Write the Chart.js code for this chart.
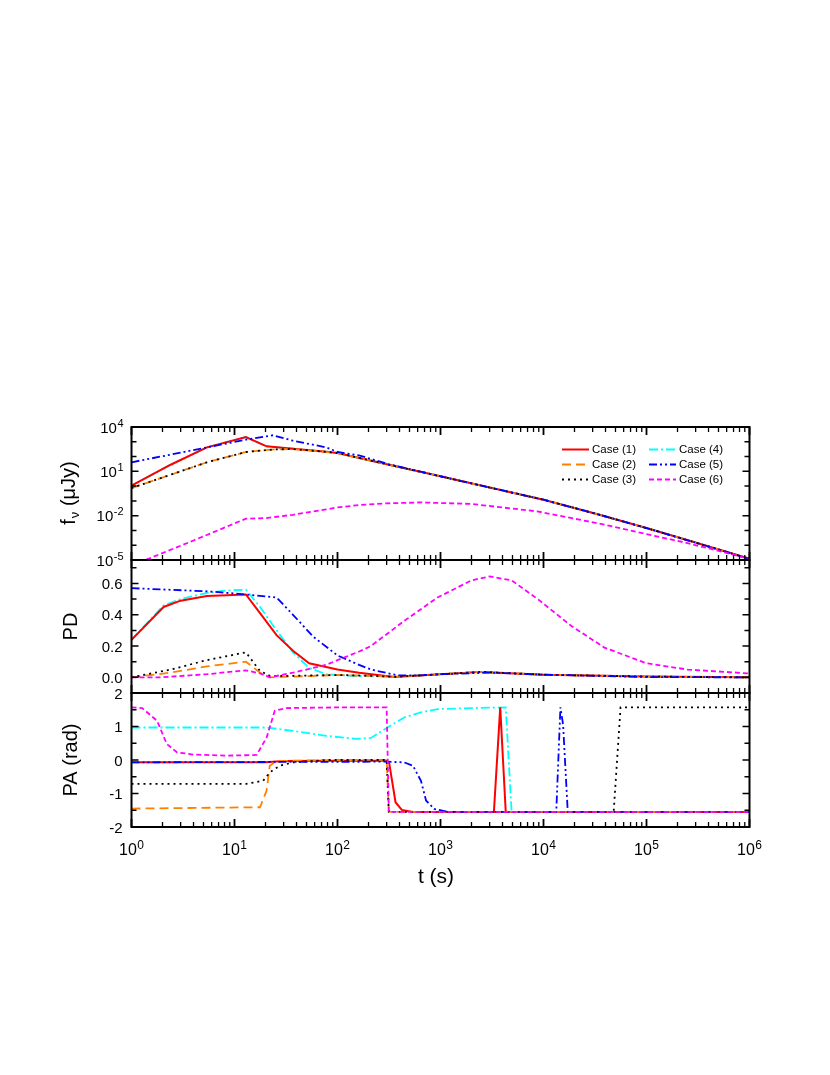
<!DOCTYPE html>
<html>
<head>
<meta charset="utf-8">
<script src="https://cdn.jsdelivr.net/npm/chart.js@4.4.0/dist/chart.umd.min.js"></script>
<style>
  body { margin: 0; background: #fff; }
  .wrap { position: relative; width: 830px; height: 1075px; }
  .wrap canvas { position: absolute; left: 0; top: 0; }
</style>
</head>
<body>
<div class="wrap">
  <canvas id="chart-flux" width="830" height="1075"></canvas>
  <canvas id="chart-pd" width="830" height="1075"></canvas>
  <canvas id="chart-pa" width="830" height="1075"></canvas>
</div>
<script>
// ---- data: [t (s), value] ----
const caseNames = ['Case (1)', 'Case (2)', 'Case (3)', 'Case (4)', 'Case (5)', 'Case (6)'];

// f_nu (uJy)
const fluxCase1 = [[1, 1.07], [2.4, 28], [5.4, 420], [12.9, 2100], [20.5, 490], [37, 340], [78, 214], [100, 174], [316, 28], [1000, 4.6], [3160, 0.74], [1e4, 0.12], [3.16e4, 0.014], [1e5, 1.45e-3], [3.16e5, 1.35e-4], [1e6, 1.2e-5]];
const fluxCase2 = [[1, 0.74], [2.4, 5.9], [5.4, 41], [12.9, 204], [25, 310], [37, 316], [53, 263], [100, 174], [316, 28], [1000, 4.6], [3160, 0.74], [1e4, 0.12], [3.16e4, 0.014], [1e5, 1.45e-3], [3.16e5, 1.35e-4], [1e6, 1.2e-5]];
const fluxCase3 = [[1, 0.74], [2.4, 5.9], [5.4, 41], [12.9, 204], [25, 310], [37, 316], [53, 263], [100, 174], [316, 28], [1000, 4.6], [3160, 0.74], [1e4, 0.12], [3.16e4, 0.014], [1e5, 1.45e-3], [3.16e5, 1.35e-4], [1e6, 1.2e-5]];
const fluxCase4 = [[1, 1.07], [2.4, 28], [5.4, 420], [12.9, 2100], [20.5, 490], [37, 340], [78, 214], [100, 174], [316, 28], [1000, 4.6], [3160, 0.74], [1e4, 0.12], [3.16e4, 0.014], [1e5, 1.45e-3], [3.16e5, 1.35e-4], [1e6, 1.2e-5]];
const fluxCase5 = [[1, 41], [2.4, 135], [5.4, 417], [12.9, 1380], [23.6, 2750], [37, 1175], [78, 417], [100, 204], [162, 120], [316, 30], [1000, 4.6], [3160, 0.74], [1e4, 0.12], [3.16e4, 0.014], [1e5, 1.45e-3], [3.16e5, 1.35e-4], [1e6, 1.2e-5]];
const fluxCase6 = [[1, 4.1e-6], [1.37, 1e-5], [4, 2.1e-4], [12.9, 6.2e-3], [20.5, 6.9e-3], [37, 0.0115], [78, 0.027], [100, 0.036], [162, 0.052], [300, 0.068], [646, 0.079], [2000, 0.062], [8700, 0.0195], [3.9e4, 2.5e-3], [1e5, 5.6e-4], [2.5e5, 1.4e-4], [1e6, 1.2e-5]];

// PD
const pdCase1 = [[1, 0.24], [2.05, 0.45], [3, 0.49], [5.4, 0.52], [12.9, 0.53], [17.7, 0.41], [25.6, 0.27], [37, 0.17], [53, 0.09], [100, 0.05], [162, 0.03], [356, 0.003], [1000, 0.02], [2500, 0.035], [1e4, 0.017], [1e5, 0.005], [1e6, 0.0]];
const pdCase2 = [[1, 0.0], [2.4, 0.03], [5.4, 0.07], [12.9, 0.10], [17.7, 0.03], [22, 0.0], [37, 0.005], [100, 0.015], [211, 0.01], [356, 0.003], [1000, 0.02], [2500, 0.035], [1e4, 0.017], [1e5, 0.005], [1e6, 0.0]];
const pdCase3 = [[1, 0.0], [2.4, 0.05], [5.4, 0.11], [12.9, 0.16], [17.7, 0.04], [22, 0.01], [37, 0.01], [100, 0.015], [211, 0.01], [356, 0.003], [1000, 0.02], [2500, 0.035], [1e4, 0.017], [1e5, 0.005], [1e6, 0.0]];
const pdCase4 = [[1, 0.24], [2.05, 0.46], [3, 0.5], [5.4, 0.54], [8.4, 0.555], [12.9, 0.56], [17.7, 0.45], [25.6, 0.30], [37, 0.16], [53, 0.06], [78, 0.02], [150, 0.008], [356, 0.005], [1000, 0.02], [2500, 0.035], [1e4, 0.017], [1e5, 0.005], [1e6, 0.0]];
const pdCase5 = [[1, 0.57], [5.4, 0.55], [12.9, 0.53], [25.6, 0.51], [37, 0.40], [58, 0.26], [100, 0.14], [162, 0.08], [211, 0.05], [383, 0.013], [646, 0.013], [1000, 0.02], [3000, 0.03], [1e4, 0.017], [1e5, 0.002], [1e6, 0.0]];
const pdCase6 = [[1, 0.0], [1.9, 0.0], [5.4, 0.02], [12.9, 0.045], [17.7, 0.025], [22, 0.0], [37, 0.03], [78, 0.08], [100, 0.11], [162, 0.165], [211, 0.2], [443, 0.36], [934, 0.51], [2000, 0.62], [3000, 0.645], [4900, 0.62], [8800, 0.50], [1.85e4, 0.33], [3.9e4, 0.19], [1e5, 0.09], [2.5e5, 0.05], [1e6, 0.025]];

// PA (rad)
const paCase1 = [[1, -0.07], [20, -0.07], [30, -0.03], [100, -0.02], [300, -0.02], [318, -0.1], [366, -1.26], [421, -1.49], [540, -1.55], [3300, -1.55], [3800, 1.57], [4300, -1.55], [1e6, -1.55]];
const paCase2 = [[1, -1.45], [17.7, -1.41], [20.5, -0.91], [22, -0.17], [25.6, -0.03], [100, 0], [300, 0], [315, -1.55], [1e6, -1.55]];
const paCase3 = [[1, -0.71], [13, -0.71], [19, -0.62], [22, -0.37], [27.5, -0.17], [37, -0.07], [78, 0], [300, 0], [315, -1.55], [4.8e4, -1.55], [5.6e4, 1.57], [1e6, 1.57]];
const paCase4 = [[1, 0.97], [20.5, 0.97], [37, 0.87], [78, 0.72], [150, 0.63], [211, 0.66], [306, 0.97], [443, 1.27], [646, 1.42], [934, 1.52], [2000, 1.55], [4300, 1.57], [4900, -1.55], [1e6, -1.55]];
const paCase5 = [[1, -0.07], [300, -0.05], [443, -0.07], [540, -0.17], [646, -0.62], [724, -1.21], [870, -1.46], [1170, -1.55], [1.33e4, -1.55], [1.46e4, 1.57], [1.55e4, 1.05], [1.72e4, -1.55], [1e6, -1.55]];
const paCase6 = [[1, 1.57], [1.27, 1.55], [1.77, 1.17], [2.2, 0.48], [2.76, 0.23], [4, 0.16], [8.4, 0.13], [16.4, 0.15], [20.5, 0.67], [24.6, 1.47], [31.8, 1.55], [100, 1.57], [300, 1.57], [315, -1.55], [1e6, -1.55]];

// tick labels
const timeTicks = [1, 10, 100, 1000, 1e4, 1e5, 1e6];
const fluxTicks = [1e-5, 1e-2, 10, 1e4];
const pdTicks = [0.0, 0.2, 0.4, 0.6];
const paTicks = [-2, -1, 0, 1, 2];

// ---- styles ----
const caseColors = ['#FF0000', '#FF8000', '#000000', '#00FFFF', '#0000FF', '#FF00FF'];
const caseDashes = [[], [9, 5], [2, 4], [9, 3, 2, 3], [8, 3, 2, 3, 2, 3], [5, 3]];
// lower order is drawn on top: case 4 lowest, then 1, 2, 3, 5, 6
const caseOrder = [4, 3, 2, 5, 1, 0];
const FONT = '"Liberation Sans", Arial, sans-serif';

const PLOT_LEFT = 131.5;
const PLOT_RIGHT = 749.5;

// minor tick positions on the time axis
const timeMinor = [];
for (let d = 0; d < 6; d++) {
    for (let m = 2; m <= 9; m++) timeMinor.push(m * Math.pow(10, d));
}

function drawPow(ctx, exp, x, y, size, align) {
    const baseFont = size + 'px ' + FONT;
    const supFont = Math.round(size * 0.72) + 'px ' + FONT;
    ctx.font = baseFont;
    const bw = ctx.measureText('10').width;
    ctx.font = supFont;
    const ew = ctx.measureText(exp).width;
    const total = bw + 0.5 + ew;
    const x0 = align === 'right' ? x - total : x - total / 2;
    ctx.textAlign = 'left';
    ctx.textBaseline = 'alphabetic';
    ctx.font = baseFont;
    ctx.fillText('10', x0, y);
    ctx.font = supFont;
    ctx.fillText(exp, x0 + bw + 0.5, y - size * 0.4);
}

function panelAxes(cfg) {
    return {
        id: 'panelAxes',
        afterDraw(chart) {
            const ctx = chart.ctx;
            const a = chart.chartArea;
            const xs = chart.scales.x;
            const ys = chart.scales.y;
            ctx.save();
            ctx.strokeStyle = '#000';
            ctx.fillStyle = '#000';

            // x ticks, top and bottom, pointing inward
            ctx.lineWidth = 1.3;
            ctx.beginPath();
            timeMinor.forEach(v => {
                const px = xs.getPixelForValue(v);
                ctx.moveTo(px, a.top); ctx.lineTo(px, a.top + 5);
                ctx.moveTo(px, a.bottom); ctx.lineTo(px, a.bottom - 5);
            });
            ctx.stroke();
            ctx.lineWidth = 1.8;
            ctx.beginPath();
            timeTicks.forEach(v => {
                const px = xs.getPixelForValue(v);
                ctx.moveTo(px, a.top); ctx.lineTo(px, a.top + 8);
                ctx.moveTo(px, a.bottom); ctx.lineTo(px, a.bottom - 8);
            });
            ctx.stroke();

            // y ticks, left and right
            ctx.lineWidth = 1.5;
            ctx.beginPath();
            cfg.yMinor.forEach(v => {
                const py = ys.getPixelForValue(v);
                ctx.moveTo(a.left, py); ctx.lineTo(a.left + 5, py);
                ctx.moveTo(a.right, py); ctx.lineTo(a.right - 5, py);
            });
            cfg.yMajor.forEach(v => {
                const py = ys.getPixelForValue(v);
                ctx.moveTo(a.left, py); ctx.lineTo(a.left + 7, py);
                ctx.moveTo(a.right, py); ctx.lineTo(a.right - 7, py);
            });
            ctx.stroke();

            // frame
            ctx.lineWidth = 2;
            ctx.strokeRect(a.left, a.top, a.right - a.left, a.bottom - a.top);

            // y tick labels
            cfg.yMajor.forEach(v => {
                const py = ys.getPixelForValue(v);
                if (cfg.logY) {
                    drawPow(ctx, String(Math.round(Math.log10(v))), a.left - 8, py + 5.5, 15, 'right');
                } else {
                    ctx.font = '15px ' + FONT;
                    ctx.textAlign = 'right';
                    ctx.textBaseline = 'alphabetic';
                    ctx.fillText(cfg.fmt(v), a.left - 9, py + 5.5);
                }
            });

            // x tick labels and title on the bottom panel
            if (cfg.xLabels) {
                timeTicks.forEach(v => {
                    drawPow(ctx, String(Math.round(Math.log10(v))), xs.getPixelForValue(v), 855, 16, 'center');
                });
                ctx.font = '21px ' + FONT;
                ctx.textAlign = 'center';
                ctx.textBaseline = 'alphabetic';
                ctx.fillText('t (s)', 436, 883);
            }

            // y title, rotated
            ctx.save();
            ctx.translate(cfg.titleX, (a.top + a.bottom) / 2);
            ctx.rotate(-Math.PI / 2);
            ctx.textBaseline = 'alphabetic';
            ctx.textAlign = 'left';
            if (cfg.titleSub) {
                ctx.font = '20px ' + FONT;
                const w1 = ctx.measureText(cfg.title).width;
                const w3 = ctx.measureText(cfg.titleRest).width;
                ctx.font = '13px ' + FONT;
                const w2 = ctx.measureText(cfg.titleSub).width;
                let x0 = -(w1 + w2 + w3) / 2;
                ctx.font = '20px ' + FONT;
                ctx.fillText(cfg.title, x0, 7);
                ctx.font = '13px ' + FONT;
                ctx.fillText(cfg.titleSub, x0 + w1 + 1, 11);
                ctx.font = '20px ' + FONT;
                ctx.fillText(cfg.titleRest, x0 + w1 + w2 + 1, 7);
            } else {
                ctx.font = '20px ' + FONT;
                ctx.textAlign = 'center';
                ctx.fillText(cfg.title, 0, 7);
            }
            ctx.restore();

            // legend inside the flux panel
            if (cfg.legend) {
                ctx.font = '11.5px ' + FONT;
                ctx.textBaseline = 'middle';
                ctx.textAlign = 'left';
                chart.data.datasets.forEach((ds, i) => {
                    const col = i < 3 ? 0 : 1;
                    const row = i % 3;
                    const lx = col === 0 ? 562 : 649;
                    const ly = 449.5 + row * 15;
                    ctx.save();
                    ctx.strokeStyle = ds.borderColor;
                    ctx.lineWidth = ds.borderWidth;
                    ctx.setLineDash(ds.borderDash);
                    ctx.beginPath();
                    ctx.moveTo(lx, ly);
                    ctx.lineTo(lx + 27, ly);
                    ctx.stroke();
                    ctx.restore();
                    ctx.fillStyle = '#000';
                    ctx.fillText(ds.label, lx + 30, ly + 0.5);
                });
            }
            ctx.restore();
        }
    };
}

function makeDatasets(series) {
    return series.map((s, i) => ({
        label: caseNames[i],
        data: s.map(p => ({ x: p[0], y: p[1] })),
        borderColor: caseColors[i],
        borderDash: caseDashes[i],
        borderWidth: i === 0 ? 2 : 1.8,
        pointRadius: 0,
        tension: 0,
        fill: false,
        clip: 0,
        order: caseOrder[i]
    }));
}

function makePanel(id, series, yScale, top, bottom, cfg) {
    return new Chart(document.getElementById(id), {
        type: 'line',
        data: { datasets: makeDatasets(series) },
        options: {
            responsive: false,
            animation: false,
            devicePixelRatio: 1,
            layout: { padding: { left: PLOT_LEFT, right: 830 - PLOT_RIGHT, top: top, bottom: 1075 - bottom } },
            plugins: { legend: { display: false }, tooltip: { enabled: false } },
            scales: {
                x: { type: 'logarithmic', min: 1, max: 1e6, display: false },
                y: Object.assign({ display: false }, yScale)
            }
        },
        plugins: [panelAxes(cfg)]
    });
}

makePanel('chart-flux', [fluxCase1, fluxCase2, fluxCase3, fluxCase4, fluxCase5, fluxCase6],
    { type: 'logarithmic', min: 1e-5, max: 1e4 }, 427, 560, {
        logY: true,
        yMajor: fluxTicks,
        yMinor: [1e-4, 1e-3, 0.1, 1, 100, 1000],
        title: 'f', titleSub: 'ν', titleRest: ' (μJy)', titleX: 68,
        legend: true
    });

makePanel('chart-pd', [pdCase1, pdCase2, pdCase3, pdCase4, pdCase5, pdCase6],
    { type: 'linear', min: -0.1, max: 0.75 }, 560, 693, {
        yMajor: pdTicks,
        yMinor: [0.1, 0.3, 0.5, 0.7],
        fmt: v => v.toFixed(1),
        title: 'PD', titleX: 70
    });

makePanel('chart-pa', [paCase1, paCase2, paCase3, paCase4, paCase5, paCase6],
    { type: 'linear', min: -2, max: 2 }, 693, 827, {
        yMajor: paTicks,
        yMinor: [-1.5, -0.5, 0.5, 1.5],
        fmt: v => String(v),
        title: 'PA (rad)', titleX: 70,
        xLabels: true
    });
</script>
</body>
</html>
